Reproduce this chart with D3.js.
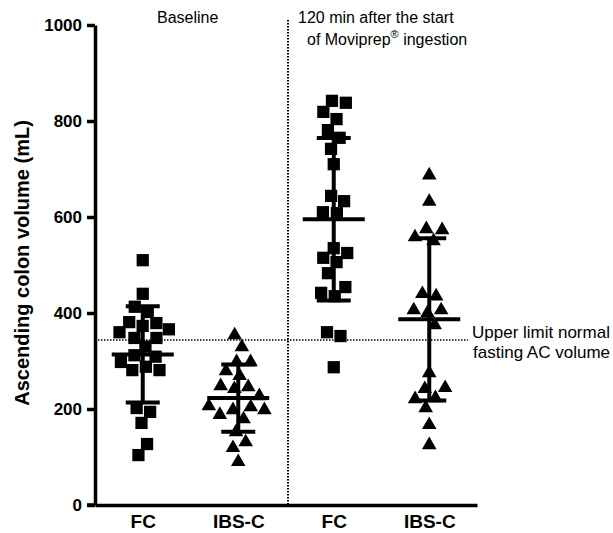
<!DOCTYPE html>
<html><head><meta charset="utf-8">
<script src="https://cdn.jsdelivr.net/npm/d3@7"></script>
<style>
body{margin:0;background:#fff}
svg{display:block}
text{font-family:"Liberation Sans",Arial,Helvetica,sans-serif;fill:#000}
</style>
</head><body>
<svg id="chart" width="613" height="533"></svg>
<script>
// ---- data ----
const categories = ["FC", "IBS-C", "FC", "IBS-C"];
const markerShapes = ["square", "triangle", "square", "triangle"];
const baselineFC = [510, 440, 413, 402, 381, 379, 373, 366, 360, 348, 348, 330, 312, 309, 298, 288, 281, 281, 202, 194, 171, 127, 104];
const baselineIBSC = [354, 329, 298, 298, 279, 269, 248, 246, 242, 227, 206, 204, 198, 198, 188, 179, 152, 131, 119, 90];
const postFC = [842, 838, 819, 804, 781, 765, 742, 710, 644, 633, 610, 608, 535, 525, 515, 506, 483, 454, 442, 435, 360, 352, 287];
const postIBSC = [687, 632, 575, 573, 558, 550, 440, 435, 406, 406, 400, 375, 275, 244, 242, 223, 221, 202, 167, 125];
const groups = [baselineFC, baselineIBSC, postFC, postIBSC];
const yTicks = [0, 200, 400, 600, 800, 1000];
const upperLimitNormal = 344;
const yTitle = "Ascending colon volume (mL)";
const periodLabels = ["Baseline", "120 min after the start", "of Moviprep"];
const limitLabels = ["Upper limit normal", "fasting AC volume"];

// ---- layout ----
const svg = d3.select("#chart");
const y = d3.scaleLinear().domain([0, 1000]).range([505, 25]);
const x = d3.scalePoint().domain(d3.range(categories.length)).range([95, 477]).padding(0.5);
const axisW = 3.5;

// dotted reference lines
const divX = (x(1) + x(2)) / 2 + 2;
svg.append("line")
  .attr("x1", divX).attr("x2", divX).attr("y1", 20).attr("y2", y(0))
  .attr("stroke", "#000").attr("stroke-width", 2).attr("stroke-dasharray", "1.5,1.5");
svg.append("line")
  .attr("x1", 95).attr("x2", 468).attr("y1", y(upperLimitNormal)).attr("y2", y(upperLimitNormal))
  .attr("stroke", "#000").attr("stroke-width", 1.5).attr("stroke-dasharray", "1.5,1.5");

// markers: deterministic beeswarm via force layout (y fixed to value)
const sq = d3.symbol().type(d3.symbolSquare).size(150);
const tri = d3.symbol().type(d3.symbolTriangle).size(92);
groups.forEach((vals, gi) => {
  const cx = x(gi);
  const nodes = vals.map((v, i) => ({v, x: cx + ((i % 2) ? 1 : -1) * (i % 5), y: y(v), fy: y(v)}));
  const sim = d3.forceSimulation(nodes)
    .force("x", d3.forceX(cx).strength(0.12))
    .force("collide", d3.forceCollide(7).iterations(3))
    .stop();
  for (let k = 0; k < 300; k++) sim.tick();

  svg.append("g").selectAll("path").data(nodes).join("path")
    .attr("d", markerShapes[gi] === "square" ? sq : tri)
    .attr("transform", d => `translate(${d.x},${d.y})`)
    .attr("fill", "#000");

  // mean ± SD
  const m = d3.mean(vals), sd = d3.deviation(vals);
  const g = svg.append("g").attr("stroke", "#000").attr("stroke-width", 4);
  g.append("line").attr("x1", cx).attr("x2", cx).attr("y1", y(m + sd)).attr("y2", y(m - sd));
  g.append("line").attr("x1", cx - 31).attr("x2", cx + 31).attr("y1", y(m)).attr("y2", y(m));
  [m + sd, m - sd].forEach(v =>
    g.append("line").attr("x1", cx - 17).attr("x2", cx + 17).attr("y1", y(v)).attr("y2", y(v)));
});

// axes
const yAxis = svg.append("g").attr("transform", "translate(95,0)")
  .call(d3.axisLeft(y).tickValues(yTicks).tickFormat(d3.format("d")).tickSize(8).tickSizeOuter(0).tickPadding(5));
yAxis.selectAll("path,line").attr("stroke", "#000").attr("stroke-width", axisW);
yAxis.selectAll("text").attr("font-size", 17).attr("font-weight", "bold")
  .attr("font-family", "'Liberation Sans',Arial,sans-serif").attr("fill", "#000");

const xAxis = svg.append("g").attr("transform", `translate(0,${y(0)})`)
  .call(d3.axisBottom(x).tickSize(0).tickSizeOuter(0).tickPadding(10).tickFormat(i => categories[i]));
xAxis.select("path").attr("stroke", "#000").attr("stroke-width", axisW);
xAxis.selectAll("text").attr("font-size", 19).attr("font-weight", "bold")
  .attr("font-family", "'Liberation Sans',Arial,sans-serif").attr("fill", "#000");
svg.append("line").attr("x1", 87).attr("x2", 95).attr("y1", y(0)).attr("y2", y(0))
  .attr("stroke", "#000").attr("stroke-width", axisW);

// y title
svg.append("text")
  .attr("transform", `translate(29,263) rotate(-90)`)
  .attr("text-anchor", "middle").attr("font-size", 20).attr("font-weight", "bold")
  .text(yTitle);

// period labels
svg.append("text").attr("x", 157).attr("y", 23).attr("font-size", 16).text(periodLabels[0]);
svg.append("text").attr("x", 298).attr("y", 23).attr("font-size", 16).text(periodLabels[1]);
const t2 = svg.append("text").attr("x", 307).attr("y", 45).attr("font-size", 16);
t2.append("tspan").text(periodLabels[2]);
t2.append("tspan").attr("font-size", 11).attr("dy", -7).text("®");
t2.append("tspan").attr("dy", 7).text(" ingestion");

// limit labels
svg.append("text").attr("x", 472).attr("y", 338).attr("font-size", 17).text(limitLabels[0]);
svg.append("text").attr("x", 473).attr("y", 358).attr("font-size", 17).text(limitLabels[1]);
</script>
</body></html>
